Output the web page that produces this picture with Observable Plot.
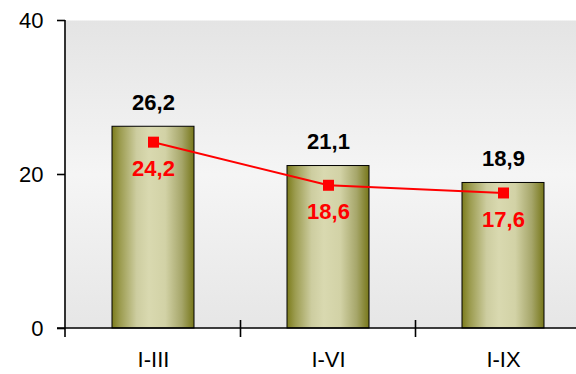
<!DOCTYPE html>
<html><head><meta charset="utf-8">
<script src="https://cdn.jsdelivr.net/npm/d3@7"></script>
<script src="https://cdn.jsdelivr.net/npm/@observablehq/plot@0.6"></script>
<style>body{margin:0;background:#fff}</style>
</head><body><div id="chart"></div>
<script>
const categories = ["I-III", "I-VI", "I-IX"];
const barValues = [26.2, 21.1, 18.9];
const lineValues = [24.2, 18.6, 17.6];
const yTicks = [0, 20, 40];

const data = categories.map((c, i) => ({cat: c, bar: barValues[i], line: lineValues[i]}));
const fmt = d => d.toFixed(1).replace(".", ",");
const font = "'Liberation Sans', Arial, Helvetica, sans-serif";

const defs = () => {
  const d = d3.create("svg:defs");
  const bg = d.append("linearGradient").attr("id", "bgGrad").attr("x1", 0).attr("x2", 0).attr("y1", 0).attr("y2", 1);
  [[0, "#e4e4e4"], [0.5, "#f5f5f5"], [1, "#e6e6e6"]].forEach(([o, c]) => bg.append("stop").attr("offset", o).attr("stop-color", c));
  const bar = d.append("linearGradient").attr("id", "barGrad").attr("x1", 0).attr("x2", 1).attr("y1", 0).attr("y2", 0);
  [[0, "#7c7c1c"], [0.1, "#9c9c50"], [0.3, "#cdcda0"], [0.45, "#d9d9b0"], [0.65, "#d2d2a6"], [0.85, "#a6a66a"], [1, "#77771a"]]
    .forEach(([o, c]) => bar.append("stop").attr("offset", o).attr("stop-color", c));
  return d.node();
};

const axisLines = (index, scales, values, dim) => {
  const x = scales.x, y = scales.y;
  const bw = x.bandwidth();
  const step = x(categories[1]) - x(categories[0]);
  const y0 = y(0);
  const g = d3.create("svg:g").attr("stroke", "#000").attr("stroke-width", 1.6).attr("fill", "none");
  g.append("line").attr("x1", dim.marginLeft).attr("x2", dim.marginLeft)
    .attr("y1", dim.marginTop).attr("y2", y0 + 9);
  g.append("line").attr("x1", dim.marginLeft - 8).attr("x2", dim.width - dim.marginRight)
    .attr("y1", y0).attr("y2", y0);
  categories.slice(1).forEach(c => {
    const bx = x(c) + bw / 2 - step / 2;
    g.append("line").attr("x1", bx).attr("x2", bx).attr("y1", y0 - 8).attr("y2", y0 + 9);
  });
  return g.node();
};

const chart = Plot.plot({
  width: 576,
  height: 374,
  marginLeft: 65,
  marginRight: 0,
  marginTop: 20,
  marginBottom: 46,
  style: {fontFamily: font, background: "#fff", overflow: "visible"},
  x: {domain: categories, range: [65, 592], paddingInner: 0.53, paddingOuter: 0.265, label: null},
  y: {domain: [0, 40], label: null},
  marks: [
    defs,
    Plot.frame({fill: "url(#bgGrad)", stroke: "none"}),
    Plot.barY(data, {x: "cat", y: "bar", fill: "url(#barGrad)", stroke: "#000", strokeWidth: 1}),
    Plot.line(data, {x: "cat", y: "line", stroke: "#ff0000", strokeWidth: 2}),
    Plot.dot(data, {x: "cat", y: "line", symbol: "square", r: 6.2, fill: "#ff0000", stroke: "none"}),
    Plot.text(data, {x: "cat", y: "bar", text: d => fmt(d.bar), dy: -24, fontSize: 22, fontWeight: "bold", fill: "#000"}),
    Plot.text(data, {x: "cat", y: "line", text: d => fmt(d.line), dy: 27, fontSize: 22, fontWeight: "bold", fill: "#ff0000"}),
    axisLines,
    Plot.axisY({ticks: yTicks, tickSize: 8, tickPadding: 14, fontSize: 22, tickFormat: d => String(d), strokeWidth: 1.6}),
    Plot.axisX({tickSize: 0, tickPadding: 23, fontSize: 22})
  ]
});
document.getElementById("chart").appendChild(chart);
</script>
</body></html>
